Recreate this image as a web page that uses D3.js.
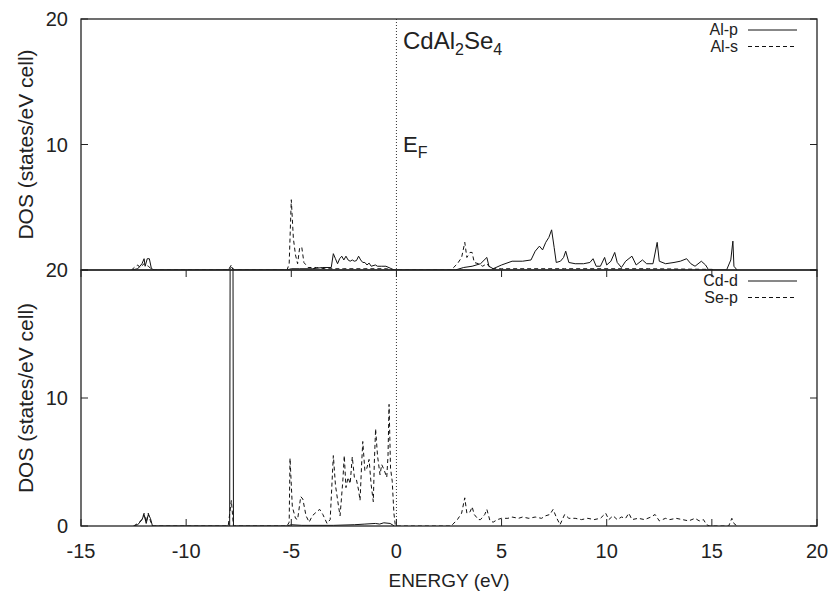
<!DOCTYPE html>
<html>
<head>
<meta charset="utf-8">
<script src="https://cdn.jsdelivr.net/npm/d3@7"></script>
<style>
  body { margin: 0; background: #fff; }
  text { font-family: "Liberation Sans", Arial, sans-serif; fill: #222; }
</style>
</head>
<body>
<div id="dos"></div>
<script>
// energy grid (eV) and DOS values for each projected curve
const alpE = [-12.6,-12.3,-12.1,-12.0,-11.95,-11.85,-11.75,-11.65,-11.5,-8.0,-7.85,-7.7,-5.2,-5.0,-4.6,-4.0,-3.5,-3.1,-3.0,-2.9,-2.8,-2.7,-2.6,-2.5,-2.4,-2.3,-2.2,-2.1,-2.0,-1.9,-1.8,-1.7,-1.6,-1.5,-1.4,-1.3,-1.2,-1.0,-0.9,-0.7,-0.5,-0.3,-0.1,
  2.8,3.2,3.6,4.0,4.3,4.4,4.6,5.0,5.5,6.0,6.4,6.6,6.8,6.95,7.1,7.25,7.38,7.5,7.6,7.8,7.95,8.05,8.2,8.5,8.9,9.2,9.35,9.5,9.7,9.9,10.0,10.2,10.38,10.5,10.7,10.9,11.2,11.4,11.7,11.9,12.2,12.4,12.5,12.8,13.2,13.5,13.8,14.0,14.2,14.5,14.7,14.85,15.7,15.9,16.0,16.05,16.2];
const alpV = [0,0.1,0.5,0.9,0.3,0.9,0.9,0.1,0,0,0.2,0,0,0.1,0.1,0.1,0.2,0.2,1.3,0.9,0.5,0.9,1.1,0.8,1.1,0.8,0.7,0.8,0.7,0.75,1.1,0.8,0.6,0.6,0.4,0.55,0.3,0.4,0.3,0.3,0.3,0.15,0,
  0,0.2,0.3,0.5,1.0,0.3,0.1,0.4,0.7,0.7,0.8,1.5,1.9,1.6,2.2,2.6,3.2,1.8,0.6,0.7,1.0,1.5,0.6,0.5,0.5,0.6,0.9,0.3,0.3,1.0,0.4,0.7,1.4,0.6,0.2,0.7,1.1,0.4,0.8,0.5,0.5,2.2,0.7,0.5,0.6,0.7,0.9,0.5,0.3,0.7,0.4,0,0,0.8,2.3,0.3,0];

const alsE = [-12.6,-12.4,-12.3,-12.2,-12.0,-11.8,-11.6,-8.0,-7.85,-7.75,-5.2,-5.1,-5.0,-4.9,-4.8,-4.7,-4.6,-4.5,-4.4,-4.2,-3.8,-3.4,-3.0,-2.5,-1.5,-0.5,-0.1,
  2.6,2.9,3.1,3.25,3.35,3.5,3.6,3.7,3.9,4.1,4.3,4.5,5.0,8.0,12.0,15.0,15.2];
const alsV = [0,0.3,0.4,0.2,0.5,0.3,0,0,0.4,0,0,0.5,5.6,2.5,1.2,0.5,1.8,1.8,0.6,0.2,0.2,0.1,0.1,0.1,0.1,0.1,0,
  0,0.5,1.0,2.2,1.0,1.4,1.4,0.6,0.5,0.3,0.5,0.1,0.1,0.1,0.1,0.05,0];

const cddE = [-12.5,-12.3,-12.1,-12.0,-11.9,-11.8,-11.7,-11.6,-8.0,-7.93,-7.9,-7.78,-7.75,-7.6,-5.2,-5.0,-4.5,-3.0,-2.0,-1.5,-1.0,-0.8,-0.6,-0.3,-0.1];
const cddV = [0,0.1,0.5,0.9,0.2,0.9,0.6,0,0,0,28,28,0,0,0,0.1,0.05,0.05,0.1,0.15,0.2,0.15,0.25,0.2,0];

const sepE = [-12.5,-12.3,-12.1,-12.0,-11.9,-11.8,-11.7,-11.6,-8.0,-7.85,-7.75,
  -5.2,-5.1,-5.06,-4.95,-4.8,-4.7,-4.55,-4.45,-4.3,-4.15,-4.0,-3.8,-3.65,-3.5,-3.3,-3.15,-3.0,-2.9,-2.75,-2.68,-2.55,-2.48,-2.4,-2.3,-2.2,-2.1,-2.0,-1.9,-1.8,-1.73,-1.65,-1.6,-1.5,-1.41,-1.3,-1.2,-1.1,-1.05,-0.99,-0.9,-0.78,-0.7,-0.59,-0.46,-0.4,-0.35,-0.28,-0.2,-0.12,-0.05,
  2.6,2.9,3.1,3.25,3.35,3.5,3.6,3.7,3.9,4.0,4.2,4.3,4.45,4.6,4.8,5.0,5.3,5.5,5.8,6.0,6.3,6.6,6.9,7.1,7.3,7.45,7.6,7.78,8.0,8.2,8.5,8.8,9.1,9.4,9.7,9.95,10.1,10.3,10.5,10.7,10.9,11.05,11.2,11.5,11.8,12.1,12.3,12.5,12.8,13.0,13.3,13.6,13.9,14.2,14.4,14.6,14.75,14.9,15.8,15.95,16.05,16.2];
const sepV = [0,0.2,0.5,1.0,0.3,1.0,0.4,0,0,2.0,0,
  0,0.3,5.3,1.5,0.6,0.5,2.3,2.1,0.8,0.3,0.8,1.1,1.3,0.9,0.2,0.5,5.5,3.2,1.5,0.8,3.5,5.5,3.0,3.8,3.3,5.4,3.8,3.6,2.8,2.0,5.0,6.6,4.3,4.5,5.2,3.2,1.9,5.0,7.6,5.5,4.0,4.8,4.4,3.8,5.5,9.5,4.5,3.5,1.0,0,
  0,0.5,1.0,2.2,1.0,1.1,1.5,0.9,0.5,0.5,0.9,1.3,0.4,0.3,0.5,0.6,0.6,0.7,0.6,0.7,0.6,0.7,0.6,0.8,0.9,1.3,0.7,0.1,0.9,0.6,0.6,0.5,0.6,0.5,0.6,1.0,0.5,0.8,0.5,0.7,0.6,1.0,0.5,0.6,0.5,0.7,0.9,0.4,0.6,0.5,0.6,0.5,0.4,0.6,0.4,0.5,0.1,0,0,0.6,0.2,0];

const xTicks = [-15, -10, -5, 0, 5, 10, 15, 20];
const yTicks = [0, 10, 20];

const width = 831, height = 592;
const left = 81, right = 817;

const svg = d3.select('#dos').append('svg')
    .attr('width', width)
    .attr('height', height);

const x = d3.scaleLinear().domain([-15, 20]).range([left, right]);

const panels = [
    { top: 19, bottom: 270, curves: [[alpE, alpV, 'Al-p', null], [alsE, alsV, 'Al-s', '4,3']], ylabels: [10, 20], xticksUp: false },
    { top: 270, bottom: 526, curves: [[cddE, cddV, 'Cd-d', null], [sepE, sepV, 'Se-p', '4,3']], ylabels: [0, 10, 20], xticksUp: true }
];

panels.forEach((p, i) => {
    const y = d3.scaleLinear().domain([0, 20]).range([p.bottom, p.top]);
    const g = svg.append('g');

    g.append('clipPath').attr('id', 'clip' + i)
        .append('rect')
        .attr('x', left).attr('y', p.top)
        .attr('width', right - left).attr('height', p.bottom - p.top);

    // curves
    p.curves.forEach(c => {
        const pts = c[0].map((e, k) => [e, c[1][k]]);
        const line = d3.line().x(d => x(d[0])).y(d => y(d[1]));
        g.append('path')
            .attr('d', line(pts))
            .attr('clip-path', 'url(#clip' + i + ')')
            .attr('fill', 'none')
            .attr('stroke', '#111')
            .attr('stroke-width', 1)
            .attr('stroke-dasharray', c[3]);
    });

    // fermi level
    g.append('line')
        .attr('x1', x(0)).attr('x2', x(0))
        .attr('y1', p.top).attr('y2', p.bottom)
        .attr('stroke', '#333').attr('stroke-width', 1)
        .attr('stroke-dasharray', '1,2');

    // frame
    g.append('rect')
        .attr('x', left).attr('y', p.top)
        .attr('width', right - left).attr('height', p.bottom - p.top)
        .attr('fill', 'none').attr('stroke', '#222').attr('stroke-width', 1.3);

    // y ticks inward, both sides
    yTicks.forEach(t => {
        g.append('line').attr('x1', left).attr('x2', left + 7)
            .attr('y1', y(t)).attr('y2', y(t)).attr('stroke', '#222');
        g.append('line').attr('x1', right).attr('x2', right - 7)
            .attr('y1', y(t)).attr('y2', y(t)).attr('stroke', '#222');
    });
    p.ylabels.forEach(t => {
        g.append('text')
            .attr('x', 68).attr('y', y(t) + 7)
            .attr('text-anchor', 'end')
            .attr('font-size', 20)
            .text(t);
    });

    // x ticks only on the lower panel (bottom up, top down)
    if (p.xticksUp) {
        xTicks.forEach(t => {
            g.append('line').attr('x1', x(t)).attr('x2', x(t))
                .attr('y1', p.bottom).attr('y2', p.bottom - 7).attr('stroke', '#222');
            g.append('line').attr('x1', x(t)).attr('x2', x(t))
                .attr('y1', p.top).attr('y2', p.top + 7).attr('stroke', '#222');
            g.append('text')
                .attr('x', x(t)).attr('y', p.bottom + 32)
                .attr('text-anchor', 'middle')
                .attr('font-size', 20)
                .text(t);
        });
    }

    g.append('text')
        .attr('transform', 'translate(33,' + ((p.top + p.bottom) / 2) + ') rotate(-90)')
        .attr('text-anchor', 'middle')
        .attr('font-size', 21)
        .text('DOS (states/eV cell)');

    // legend
    p.curves.forEach((c, k) => {
        const ly = p.top + 11 + k * 16.5;
        g.append('text')
            .attr('x', 738).attr('y', ly + 5)
            .attr('text-anchor', 'end')
            .attr('font-size', 16)
            .text(c[2]);
        g.append('line')
            .attr('x1', 748).attr('x2', 797)
            .attr('y1', ly).attr('y2', ly)
            .attr('stroke', '#111').attr('stroke-width', 1)
            .attr('stroke-dasharray', c[3]);
    });
});

svg.append('text')
    .attr('x', (left + right) / 2).attr('y', 587)
    .attr('text-anchor', 'middle')
    .attr('font-size', 19)
    .text('ENERGY (eV)');

// compound name and E_F label
const title = svg.append('text').attr('x', 403).attr('y', 49).attr('font-size', 24);
title.append('tspan').text('CdAl');
title.append('tspan').attr('font-size', 16).attr('dy', 6).text('2');
title.append('tspan').attr('dy', -6).text('Se');
title.append('tspan').attr('font-size', 16).attr('dy', 6).text('4');

const ef = svg.append('text').attr('x', 403).attr('y', 152).attr('font-size', 22);
ef.append('tspan').text('E');
ef.append('tspan').attr('font-size', 16).attr('dy', 6).text('F');
</script>
</body>
</html>
